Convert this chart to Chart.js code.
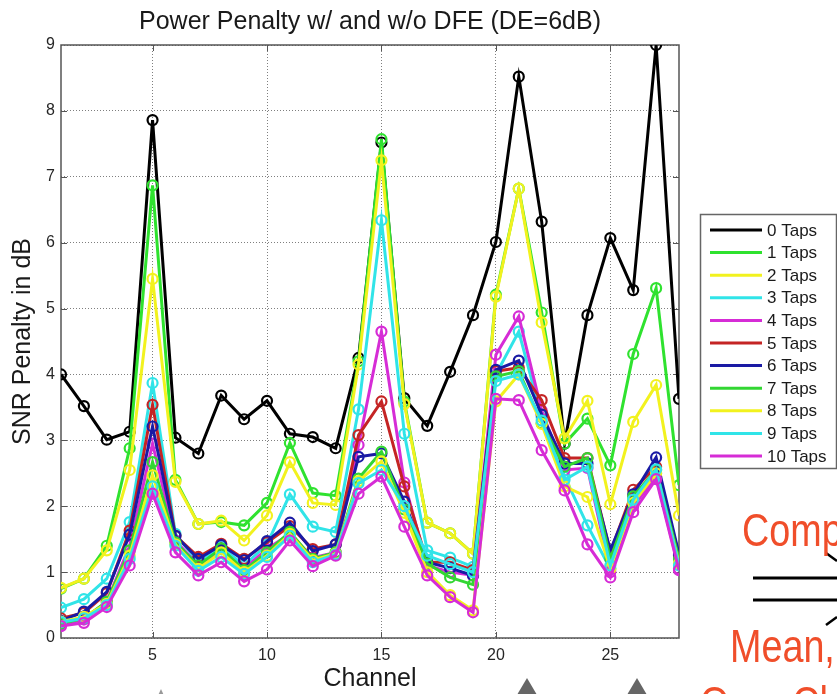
<!DOCTYPE html>
<html><head><meta charset="utf-8">
<script src="https://cdn.jsdelivr.net/npm/chart.js@4.4.1/dist/chart.umd.min.js"></script>
<style>
html,body{margin:0;padding:0;background:#fff;overflow:hidden;width:837px;height:694px;}
#wrap{position:relative;width:837px;height:694px;overflow:hidden;}
#c{position:absolute;left:0;top:0;}
.red{position:absolute;color:#f04e2a;font-family:"Liberation Sans",Arial,sans-serif;font-size:46px;line-height:1;white-space:nowrap;transform:scaleX(0.82);transform-origin:0 0;}
svg{position:absolute;left:0;top:0;}
</style></head>
<body><div id="wrap">
<canvas id="c" width="837" height="694"></canvas>
<svg width="837" height="694">
  <line x1="753" y1="578" x2="837" y2="578" stroke="#000" stroke-width="3"/>
  <line x1="753" y1="600" x2="837" y2="600" stroke="#000" stroke-width="3"/>
  <line x1="826" y1="553" x2="837" y2="561" stroke="#000" stroke-width="2.5"/>
  <line x1="826" y1="625" x2="837" y2="617" stroke="#000" stroke-width="2.5"/>
  <polygon points="527,678 514,700 540,700" fill="#666"/>
  <polygon points="637,678 624,700 650,700" fill="#666"/>
  <polygon points="161,689 156,700 166,700" fill="#999"/>
</svg>
<div class="red" style="left:742px;top:507px;">Comp</div>
<div class="red" style="left:730px;top:623px;">Mean,</div>
<div class="red" style="left:700px;top:680px;">Over Channels</div>
</div>
<script>
const channels = [1,2,3,4,5,6,7,8,9,10,11,12,13,14,15,16,17,18,19,20,21,22,23,24,25,26,27,28];
const xTickValues = [5,10,15,20,25];
const seriesLabels = ['0 Taps','1 Taps','2 Taps','3 Taps','4 Taps','5 Taps','6 Taps','7 Taps','8 Taps','9 Taps','10 Taps'];
const taps0  = [4.00,3.52,3.01,3.13,7.86,3.04,2.80,3.68,3.32,3.60,3.10,3.05,2.88,4.25,7.52,3.64,3.22,4.04,4.90,6.01,8.52,6.32,2.95,4.90,6.07,5.28,9.00,3.63];
const taps1  = [0.75,0.90,1.40,2.88,6.87,2.40,1.73,1.76,1.71,2.05,2.96,2.20,2.16,4.20,7.57,3.59,1.75,1.59,1.28,5.21,6.82,4.94,2.95,3.33,2.62,4.31,5.31,2.32];
const taps2  = [0.76,0.90,1.33,2.55,5.45,2.37,1.73,1.78,1.48,1.86,2.67,2.05,2.02,4.15,7.25,3.55,1.75,1.59,1.28,5.18,6.82,4.79,3.03,3.60,2.03,3.28,3.84,1.86];
const taps3  = [0.46,0.59,0.90,1.76,3.87,1.58,1.15,1.38,1.10,1.42,2.18,1.69,1.61,3.47,6.34,3.10,1.33,1.22,1.08,4.00,4.65,3.35,2.45,1.71,1.05,2.10,2.50,1.12];
const taps4  = [0.20,0.28,0.55,1.40,2.95,1.48,1.10,1.30,1.05,1.35,1.58,1.22,1.30,2.93,4.65,2.36,1.10,1.00,0.95,4.30,4.88,3.45,2.55,2.58,1.00,2.00,2.45,1.05];
const taps5  = [0.30,0.38,0.68,1.63,3.54,1.55,1.23,1.43,1.20,1.45,1.70,1.35,1.42,3.08,3.59,2.30,1.15,1.15,1.03,4.05,4.10,3.61,2.73,2.73,1.30,2.25,2.60,1.25];
const taps6  = [0.26,0.40,0.70,1.57,3.21,1.55,1.20,1.41,1.18,1.47,1.75,1.32,1.42,2.75,2.80,2.07,1.15,1.06,0.95,4.07,4.21,3.39,2.65,2.65,1.33,2.18,2.74,1.27];
const taps7  = [0.22,0.30,0.55,1.33,2.67,1.45,1.10,1.36,1.03,1.30,1.61,1.20,1.30,2.42,2.83,1.95,1.13,0.92,0.81,3.97,4.05,3.26,2.60,2.73,1.20,2.15,2.55,1.20];
const taps8  = [0.25,0.32,0.52,1.25,2.47,1.42,1.05,1.30,1.00,1.25,1.58,1.18,1.28,2.38,2.68,1.90,1.00,0.65,0.42,3.59,4.00,3.25,2.30,2.14,1.05,2.05,2.50,1.13];
const taps9  = [0.24,0.30,0.50,1.20,2.30,1.40,1.02,1.23,0.97,1.23,1.55,1.15,1.27,2.35,2.55,2.00,1.25,1.12,1.00,3.90,4.00,3.30,2.40,2.60,1.10,2.10,2.56,1.10];
const taps10 = [0.18,0.23,0.47,1.10,2.19,1.30,0.95,1.15,0.86,1.04,1.48,1.09,1.25,2.19,2.45,1.69,0.95,0.62,0.39,3.63,3.61,2.85,2.24,1.42,0.92,1.91,2.41,1.03];

const allSeries = [taps0,taps1,taps2,taps3,taps4,taps5,taps6,taps7,taps8,taps9,taps10];
const colors = ['#000000','#2fe22f','#f2f21e','#30e4e8','#d62cd6','#c42424','#1a1aa4','#33d633','#f2f21e','#30e4e8','#d62cd6'];

const datasets = allSeries.map((vals,i)=>({
  label: seriesLabels[i],
  data: channels.map((c,j)=>({x:c,y:vals[j]})),
  borderColor: colors[i],
  backgroundColor: colors[i],
  borderWidth: 3,
  pointRadius: 5,
  pointBorderWidth: 2.2,
  pointBackgroundColor: 'rgba(0,0,0,0)',
  pointBorderColor: colors[i],
  tension: 0,
  order: 10 - i
}));

const font = '"Liberation Sans", Arial, Helvetica, sans-serif';

const deco = {
  id: 'deco',
  beforeDatasetsDraw(chart){
    const {ctx, chartArea:a, scales:{x,y}} = chart;
    ctx.save();
    ctx.strokeStyle = '#555'; ctx.lineWidth = 1.5;
    ctx.strokeRect(a.left, a.top, a.right-a.left, a.bottom-a.top);
    ctx.lineWidth = 1;
    ctx.beginPath();
    xTickValues.forEach(v=>{
      const px = Math.round(x.getPixelForValue(v))+0.5;
      ctx.moveTo(px,a.bottom); ctx.lineTo(px,a.bottom-6);
      ctx.moveTo(px,a.top); ctx.lineTo(px,a.top+6);
    });
    for (let v=1; v<9; v++){
      const py = Math.round(y.getPixelForValue(v))+0.5;
      ctx.moveTo(a.left,py); ctx.lineTo(a.left+6,py);
      ctx.moveTo(a.right,py); ctx.lineTo(a.right-6,py);
    }
    ctx.stroke();
    ctx.restore();
  },
  afterDraw(chart){
    const {ctx, chartArea:a} = chart;
    ctx.save();
    ctx.fillStyle = '#1a1a1a';
    ctx.font = '25px ' + font;
    ctx.textAlign = 'center';
    ctx.textBaseline = 'alphabetic';
    ctx.fillText('Power Penalty w/ and w/o DFE (DE=6dB)', (a.left+a.right)/2, 29);
    const bx = 700, by = 214, bw = 136, bh = 254;
    ctx.fillStyle = '#fff';
    ctx.fillRect(bx, by, bw, bh);
    ctx.strokeStyle = '#666'; ctx.lineWidth = 1.5;
    ctx.strokeRect(bx+0.5, by+0.5, bw, bh);
    ctx.font = '17px ' + font;
    ctx.textAlign = 'left';
    ctx.textBaseline = 'middle';
    chart.data.datasets.forEach((ds,i)=>{
      const yy = 230 + i*22.6;
      ctx.strokeStyle = ds.borderColor; ctx.lineWidth = 3;
      ctx.beginPath(); ctx.moveTo(710,yy); ctx.lineTo(762,yy); ctx.stroke();
      ctx.fillStyle = '#1a1a1a';
      ctx.fillText(ds.label, 767, yy+1);
    });
    ctx.restore();
  }
};

new Chart(document.getElementById('c'), {
  type: 'line',
  data: { datasets },
  options: {
    responsive: false,
    animation: false,
    layout: { padding: { top: 45, right: 158, left: 0, bottom: 0 } },
    plugins: { legend: { display: false }, title: { display: false }, tooltip: { enabled: false } },
    scales: {
      x: {
        type: 'linear', min: 1, max: 28,
        afterBuildTicks: s => { s.ticks = xTickValues.map(v=>({value:v})); },
        afterFit: s => { s.height = 56; },
        grid: { color: 'rgba(0,0,0,0.5)', lineWidth: 1, drawTicks: false },
        border: { display: false, dash: [1,2] },
        ticks: { padding: 8, color: '#262626', font: { size: 16, family: font }, maxRotation: 0 },
        title: { display: true, text: 'Channel', color: '#1a1a1a', font: { size: 25, family: font }, padding: { top: 0, bottom: 0 } }
      },
      y: {
        min: 0, max: 9,
        afterFit: s => { s.width = 61; },
        grid: { color: 'rgba(0,0,0,0.5)', lineWidth: 1, drawTicks: false },
        border: { display: false, dash: [1,2] },
        ticks: { stepSize: 1, padding: 6, color: '#262626', font: { size: 16, family: font } },
        title: { display: true, text: 'SNR Penalty in dB', color: '#1a1a1a', font: { size: 25, family: font }, padding: { top: 8, bottom: 0 } }
      }
    }
  },
  plugins: [deco]
});
</script>
</body></html>
